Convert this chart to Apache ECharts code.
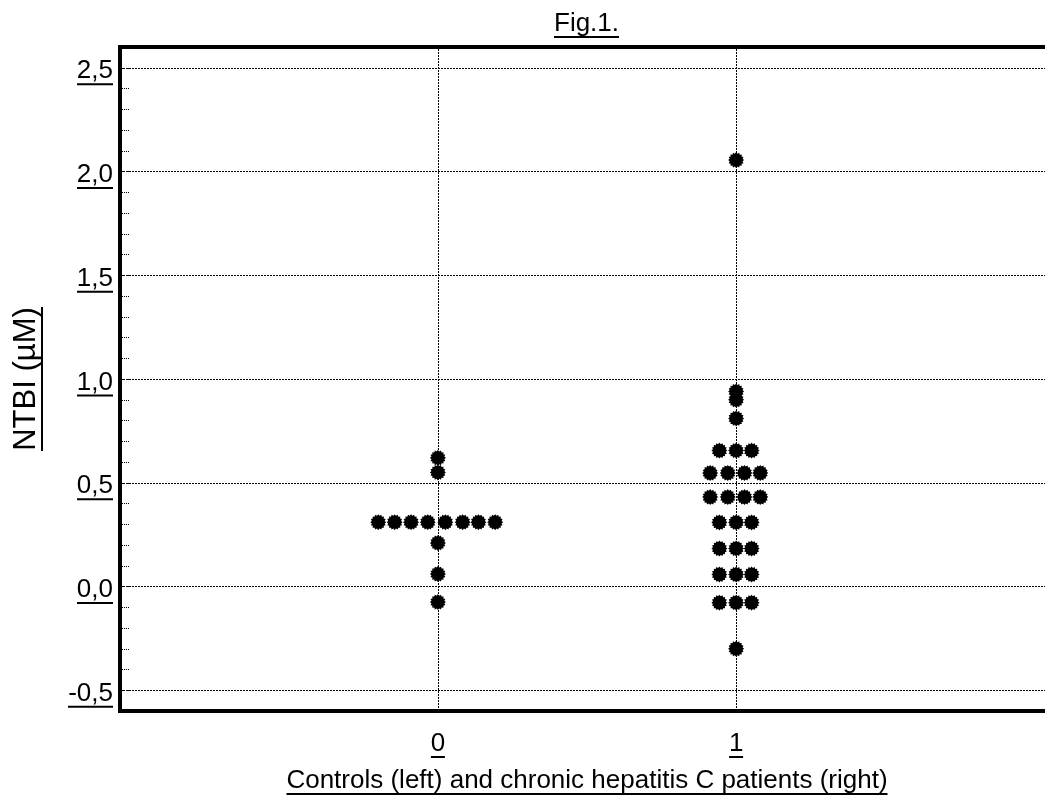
<!DOCTYPE html>
<html>
<head>
<meta charset="utf-8">
<script src="https://cdn.jsdelivr.net/npm/echarts@6/dist/echarts.min.js"></script>
<style>html,body{margin:0;padding:0;background:#fff}#c{width:1045px;height:802px}</style>
</head>
<body>
<div id="c"></div>
<script>
// ---------- data ----------
const chartTitle = 'Fig.1.';
const xAxisTitle = 'Controls (left) and chronic hepatitis C patients (right)';
const yAxisTitle = 'NTBI (µM)';
const xTickValues = [0, 1];
const yTickValues = [-0.5, 0, 0.5, 1, 1.5, 2, 2.5];

// Controls (group 0): x = group position with horizontal spread, y = NTBI
const controlX = [0, 0, -0.2, -0.145, -0.09, -0.034, 0.025, 0.083, 0.136, 0.192, 0, 0, 0];
const controlY = [0.62, 0.55, 0.31, 0.31, 0.31, 0.31, 0.31, 0.31, 0.31, 0.31, 0.21, 0.06, -0.075];

// Chronic hepatitis C patients (group 1)
const patientX = [1, 1, 1, 1,
  0.944, 1, 1.052,
  0.913, 0.972, 1.028, 1.081,
  0.913, 0.972, 1.028, 1.081,
  0.944, 1, 1.052,
  0.944, 1, 1.052,
  0.944, 1, 1.052,
  0.944, 1, 1.052,
  1];
const patientY = [2.055, 0.94, 0.90, 0.81,
  0.655, 0.655, 0.655,
  0.547, 0.547, 0.547, 0.547,
  0.431, 0.431, 0.431, 0.431,
  0.309, 0.309, 0.309,
  0.183, 0.183, 0.183,
  0.058, 0.058, 0.058,
  -0.078, -0.078, -0.078,
  -0.30];

// ---------- styling ----------
const FONT = '"Liberation Sans", Arial, sans-serif';
const FS = 26;
const GRID = {left: 120, top: 47, width: 934, bottom: 91};
const cv = document.createElement('canvas').getContext('2d');
function tw(s, fs) { cv.font = (fs || FS) + 'px ' + FONT; return cv.measureText(s).width; }
function fmtNum(v) { return v.toFixed(1).replace('.', ','); }
function rich(prefix, texts, fs) {
  fs = fs || FS;
  const r = {t: {fontFamily: FONT, fontSize: fs, fontWeight: 'normal', color: '#000', lineHeight: Math.round(fs * 0.92)}};
  texts.forEach((s, i) => {
    r[prefix + i] = {width: Math.round(tw(s, fs)), height: 2, lineHeight: 2, backgroundColor: '#000'};
  });
  return r;
}
function burst(n, rIn) {
  let d = '';
  for (let i = 0; i < 2 * n; i++) {
    const a = Math.PI * i / n, r = i % 2 ? rIn : 1;
    d += (i ? ' L' : 'M') + (50 + 50 * r * Math.cos(a)).toFixed(2) + ' ' + (50 + 50 * r * Math.sin(a)).toFixed(2);
  }
  return 'path://' + d + ' Z';
}
const dotSymbol = burst(16, 0.82);

const yTexts = yTickValues.map(fmtNum);
const xTexts = xTickValues.map(String);
const yRich = rich('u', yTexts);
const xRich = rich('u', xTexts);
const nameRichX = rich('u', [xAxisTitle]);
const YNAME_FS = 31;
const nameRichY = rich('u', [yAxisTitle], YNAME_FS);
const titleRich = rich('u', [chartTitle]);

const pairs = (xs, ys) => xs.map((x, i) => [x, ys[i]]);
const gridCenterX = GRID.left + GRID.width / 2;
const gridLine = {color: '#000', width: 1, type: [2, 1]};

const option = {
  animation: false,
  backgroundColor: '#fff',
  title: {
    text: '{t|' + chartTitle + '}\n{u0| }',
    left: Math.round(gridCenterX - tw(chartTitle) / 2),
    top: 12,
    padding: 0,
    textStyle: {fontWeight: 'normal', rich: titleRich}
  },
  grid: {left: GRID.left, top: GRID.top, width: GRID.width, bottom: GRID.bottom,
    outerBoundsMode: 'none', containLabel: false,
    show: true, borderColor: '#000', borderWidth: 4, backgroundColor: 'transparent'},
  xAxis: {
    type: 'value', min: -1.066, max: 2.066,
    axisLine: {show: false, onZero: false}, axisTick: {show: false}, splitLine: {show: false},
    axisLabel: {
      customValues: xTickValues, margin: 21,
      formatter: v => {
        const i = xTickValues.findIndex(t => Math.abs(t - v) < 1e-6);
        return i < 0 ? '' : '{t|' + xTexts[i] + '}\n{u' + i + '| }';
      },
      rich: xRich
    },
    name: '{t|' + xAxisTitle + '}\n{u0| }',
    nameLocation: 'middle', nameGap: 58,
    nameTextStyle: {rich: nameRichX}
  },
  yAxis: {
    type: 'value', min: -0.6, max: 2.6, interval: 0.1,
    axisLine: {show: false, onZero: false}, splitLine: {show: false},
    axisTick: {show: true, inside: true, length: 10, lineStyle: {color: '#000', width: 1, type: [1, 1]}},
    axisLabel: {
      margin: 7, padding: [9, 0, 0, 0],
      formatter: v => {
        const i = yTickValues.findIndex(t => Math.abs(t - v) < 1e-6);
        return i < 0 ? '' : '{t|' + yTexts[i] + '}\n{u' + i + '| }';
      },
      rich: yRich
    },
    name: '{t|' + yAxisTitle + '}\n{u0| }',
    nameLocation: 'middle', nameGap: 77,
    nameTextStyle: {rich: nameRichY}
  },
  series: [
    {
      name: 'Controls', type: 'scatter', data: pairs(controlX, controlY),
      symbol: dotSymbol, symbolSize: 16, itemStyle: {color: '#000', opacity: 1}, z: 3,
      markLine: {
        silent: true, symbol: ['none', 'none'], label: {show: false},
        lineStyle: gridLine,
        emphasis: {disabled: true},
        data: yTickValues.map(v => ({yAxis: v})).concat(xTickValues.map(v => ({xAxis: v})))
      }
    },
    {
      name: 'Patients', type: 'scatter', data: pairs(patientX, patientY),
      symbol: dotSymbol, symbolSize: 16, itemStyle: {color: '#000', opacity: 1}, z: 3
    }
  ]
};
echarts.init(document.getElementById('c')).setOption(option);
</script>
</body>
</html>
